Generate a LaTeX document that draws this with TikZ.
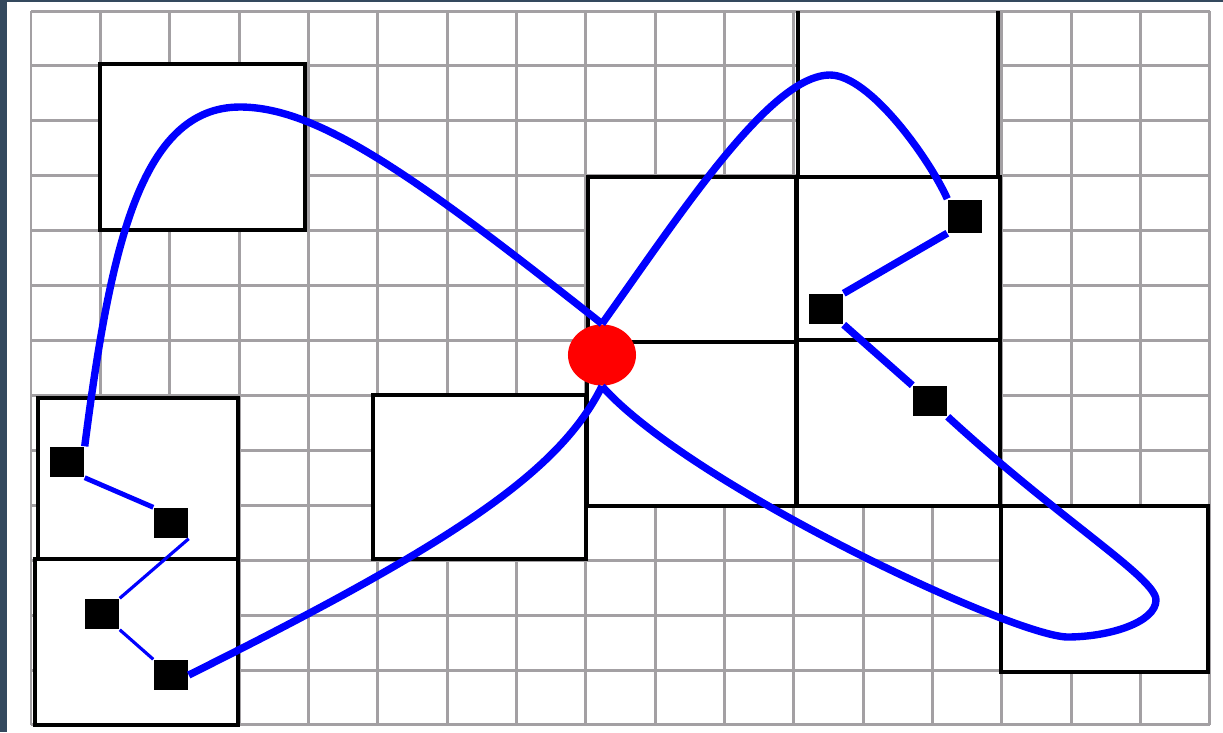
\documentclass[tikz,border=0pt]{standalone}
\usepackage{tikz}
\usetikzlibrary{shapes.geometric}

\definecolor{framecol}{RGB}{52,73,94}
\definecolor{gridcol}{RGB}{163,160,163}

\begin{document}
\begin{tikzpicture}[x=0.01cm, y=-0.01cm,
    gridline/.style={gridcol, line width=0.85pt},
    cell/.style={draw=black, line width=1.1pt, fill=white},
    pt/.style={fill=black, inner sep=0pt, minimum width=0.34cm, minimum height=0.30cm},
    hub/.style={ellipse, fill=red, inner sep=0pt, minimum width=0.68cm, minimum height=0.61cm},
    route/.style={draw=blue, line width=2.1pt},
    link/.style={draw=blue, line width=0.9pt}]
    \useasboundingbox (0,0) rectangle (1223,732);
    \fill[white] (0,0) rectangle (1223,732);
    \fill[framecol] (0,0) rectangle (7,732);
    \fill[framecol] (0,0) rectangle (1223,1.5);

    % grid, 17 x 13 cells
    \foreach \i in {0,...,17}
        \draw[gridline] ({31+69.35*\i},11) -- ({31+69.35*\i},725);
    \foreach \j in {0,...,13}
        \draw[gridline] (31,{11+54.92*\j}) -- (1210,{11+54.92*\j});

    % blocks
    \draw[cell] (100,64) rectangle (305,230);
    \draw[cell] (38,398) rectangle (238,559);
    \draw[cell] (35,559) rectangle (238,725);
    \draw[cell] (373,395) rectangle (586,559);
    \draw[cell] (588,177) rectangle (796,342);
    \draw[cell] (587,342) rectangle (796,506);
    \fill[white] (798,11) rectangle (998,177);
    \draw[gridline] (798,11) -- (998,11);
    \draw[black, line width=1.1pt] (798,11) -- (798,177) -- (998,177) -- (998,11);
    \draw[cell] (797,177) rectangle (1000,340);
    \draw[cell] (797,340) rectangle (1000,506);
    \draw[cell] (1001,506) rectangle (1208,672);

    % points
    \node[pt] (P1) at (67,462) {};
    \node[pt] (P2) at (171,523) {};
    \node[pt] (P3) at (102,614) {};
    \node[pt] (P4) at (171,675) {};
    \node[pt, minimum height=0.33cm] (P5) at (965,216) {};
    \node[pt] (P6) at (826,309) {};
    \node[pt] (P7) at (930,401) {};
    \node[hub] (O) at (602,355) {};

    % left loop
    \draw[route] (O.north) .. controls (420,180) and (320,107) .. (240,107)
        .. controls (140,107) and (110,250) .. (P1.north east);
    \draw[link, line width=1.4pt] (P1.south east) -- (P2.north west);
    \draw[link] (P2.south east) -- (P3.north east);
    \draw[link] (P3.south east) -- (P4.north west);
    \draw[route] (O.south) .. controls (560,470) and (460,540) .. (P4.east);

    % right loop
    \draw[route] (O.north) .. controls (680,215) and (770,75) .. (830,75)
        .. controls (870,75) and (930,160) .. (P5.north west);
    \draw[route] (P5.south west) -- (P6.north east);
    \draw[route] (P6.south east) -- (P7.north west);
    \draw[route] (P7.south east) .. controls (1060,520) and (1156,578) .. (1156,600)
        .. controls (1156,622) and (1110,637) .. (1067,637)
        .. controls (1010,635) and (690,485) .. (O.south);
\end{tikzpicture}
\end{document}
